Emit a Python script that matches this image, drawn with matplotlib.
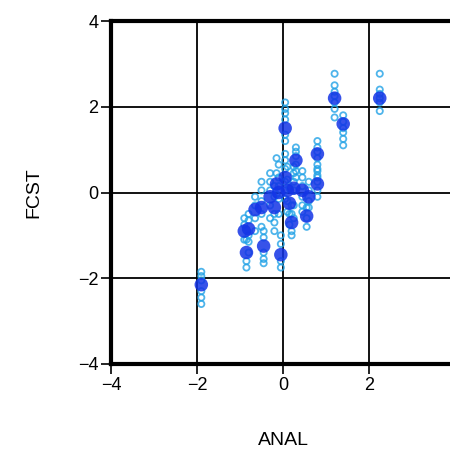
import numpy as np
import matplotlib
matplotlib.use("Agg")
import matplotlib.pyplot as plt

plt.rcParams['font.family'] = ['Liberation Sans', 'DejaVu Sans']

# analysis value of each case, ensemble-mean forecast, and member forecasts
anal = [2.25, 1.2, 1.4, 0.05, 0.8, 0.3, 0.05, 0.25, 0.45, 0.8, 0.6, -0.1,
        -0.3, -0.5, -0.2, -0.65, -0.8, -0.9, -0.85, -0.45, -0.05, -1.9, 0.2,
        0.55, 0.1, -0.15, 0.15]
fcst_mean = [2.2, 2.2, 1.6, 1.5, 0.9, 0.75, 0.35, 0.1, 0.05, 0.2, -0.1, 0.0,
             -0.1, -0.35, -0.35, -0.4, -0.85, -0.9, -1.4, -1.25, -1.45, -2.15,
             -0.7, -0.55, 0.05, 0.2, -0.25]
fcst_members = [
    [2.77, 2.4, 2.3, 2.2, 2.1, 1.9],
    [2.77, 2.5, 2.35, 2.25, 2.1, 1.95, 1.75],
    [1.8, 1.65, 1.5, 1.4, 1.25, 1.1],
    [2.1, 1.95, 1.85, 1.7, 1.35, 1.2],
    [1.2, 1.05, 0.95, 0.8, 0.65, 0.5, 0.35],
    [1.05, 0.95, 0.85, 0.65, 0.5, 0.35],
    [0.9, 0.75, 0.55, 0.25, 0.05, -0.15],
    [0.6, 0.45, 0.25, 0.05, -0.3, -0.6],
    [0.5, 0.35, 0.15, -0.1, -0.3, -0.45],
    [0.55, 0.4, 0.25, 0.05, -0.1],
    [0.25, 0.05, -0.2, -0.35],
    [0.65, 0.35, 0.15, -0.15, -0.5],
    [0.45, 0.25, 0.05, -0.3, -0.6],
    [0.25, 0.05, -0.2, -0.5, -0.8],
    [0.15, -0.1, -0.5, -0.7, -0.9],
    [-0.1, -0.3, -0.6, -0.9],
    [-0.5, -0.65, -1.0, -1.15, -1.4],
    [-0.6, -0.75, -1.1],
    [-1.1, -1.6, -1.75],
    [-0.9, -1.05, -1.4, -1.55, -1.65],
    [-1.0, -1.2, -1.6, -1.75],
    [-1.85, -1.95, -2.05, -2.3, -2.45, -2.6],
    [-0.3, -0.5, -0.9, -1.0],
    [-0.35, -0.6, -0.8],
    [0.6, 0.3, -0.2, -0.45],
    [0.8, 0.45, -0.05],
    [0.1, -0.5, -0.75],
]

ticks = [-4, -2, 0, 2, 4]

fig = plt.figure(figsize=(4.5, 4.57), dpi=100)
ax = fig.add_axes([111 / 450, 93 / 457, 344 / 450, 343 / 457])

for x, m, members in zip(anal, fcst_mean, fcst_members):
    ax.scatter([x] * len(members), members, s=20, facecolors='none',
               edgecolors='#22a2e6', linewidths=1.3, alpha=0.8, zorder=3)
for x, m in zip(anal, fcst_mean):
    ax.scatter(x, m, s=95, color='#1434e6', alpha=0.85, edgecolors='none', zorder=4)

ax.set_xlim(-4, 4)
ax.set_ylim(-4, 4)
ax.set_xticks(ticks)
ax.set_yticks(ticks)
ax.set_xticklabels(['\u22124', '\u22122', '0', '2', '4'])
ax.set_yticklabels(['\u22124', '\u22122', '0', '2', '4'])
ax.grid(True, color='black', linewidth=1.3)
ax.set_axisbelow(True)
for side in ['left', 'bottom', 'top']:
    ax.spines[side].set_linewidth(3)
ax.tick_params(direction='out', length=7, width=1.2, labelsize=13, pad=2)
ax.set_xlabel('ANAL', fontsize=14, labelpad=28)
ax.set_ylabel('FCST', fontsize=14, labelpad=26)

fig.savefig('out.png', dpi=100)
